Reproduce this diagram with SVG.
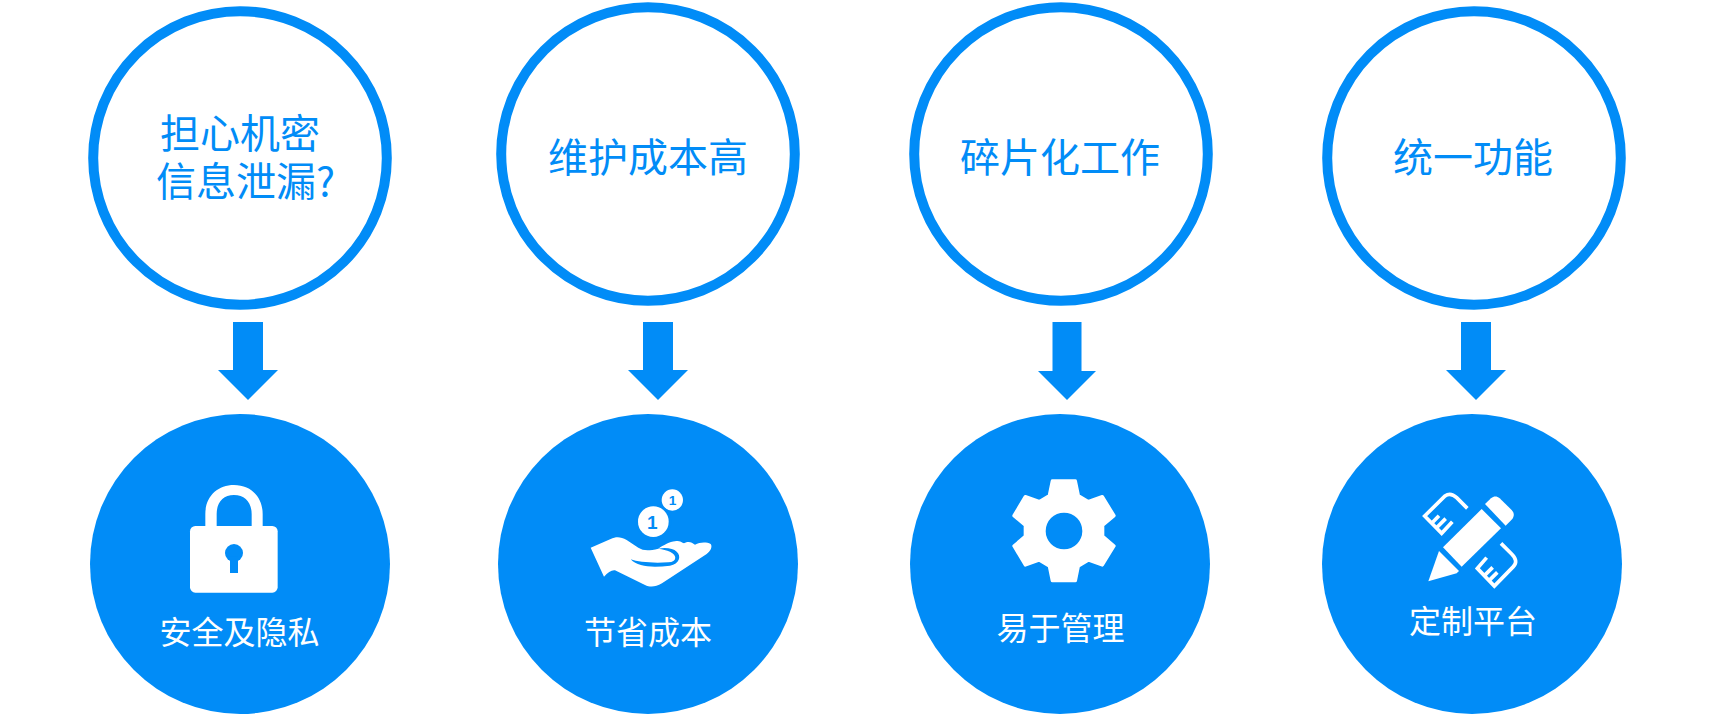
<svg xmlns="http://www.w3.org/2000/svg" width="1712" height="714" viewBox="0 0 1712 714">
<style>
.ring{fill:#fff;stroke:#018cf7;stroke-width:10}
.disc{fill:#018cf7}
.arrow{fill:#018cf7}
.t{font-family:"Noto Sans CJK SC","Liberation Sans",sans-serif;font-weight:400;text-anchor:middle}
.top{font-size:40px;fill:#018cf7}
.bot{font-size:32px;fill:#fff}
.w{fill:#fff}
.b{fill:#018cf7}
.line{fill:none;stroke:#fff;stroke-width:11;stroke-linejoin:miter}
.one{font-family:"Liberation Sans",sans-serif;font-weight:700;text-anchor:middle;fill:#018cf7}
</style>
<rect width="1712" height="714" fill="#fff"/>
<g id="connectors">
<polygon class="arrow" points="233,322 263,322 263,370 278,370 248,400 218,370 233,370"/>
<polygon class="arrow" points="643,322 673,322 673,370 688,370 658,400 628,370 643,370"/>
<polygon class="arrow" points="1052.5,322 1081.5,322 1081.5,371 1096,371 1067,400 1038,371 1052.5,371"/>
<polygon class="arrow" points="1461,322 1491,322 1491,370 1506,370 1476,400 1446,370 1461,370"/>
</g>
<g id="problem-1"><circle class="ring" cx="240" cy="158" r="146.8"/>
<text class="t top" x="240" y="148">担心机密</text><text class="t top" x="245.5" y="196">信息泄漏?</text></g>
<g id="problem-2"><circle class="ring" cx="648" cy="154" r="146.8"/>
<text class="t top" x="648" y="172">维护成本高</text></g>
<g id="problem-3"><circle class="ring" cx="1061" cy="154" r="146.8"/>
<text class="t top" x="1060" y="172">碎片化工作</text></g>
<g id="problem-4"><circle class="ring" cx="1474" cy="158" r="146.8"/>
<text class="t top" x="1473" y="172">统一功能</text></g>
<g id="benefit-1"><circle class="disc" cx="240" cy="564" r="150"/>
<g transform="translate(130,450) scale(.33333)">
<path class="w" d="M226,235V192C226,140 262,105 312,105C362,105 398,140 398,192V235H365V192C365,158 345,135 312,135C279,135 260,158 260,192V235Z"/>
<rect class="w" x="180" y="228" width="263" height="200" rx="16"/>
<circle class="b" cx="312" cy="309" r="27"/><rect class="b" x="300" y="320" width="24" height="49"/>
</g>
<text class="t bot" x="239.5" y="644">安全及隐私</text></g>
<g id="benefit-2"><circle class="disc" cx="648" cy="564" r="150"/>
<g transform="translate(580,480) scale(.33333)">
<path class="w" d="M32,203L92,177C108,170 122,170 140,180L175,203C190,212 205,213 235,206C250,196 270,185 285,184C295,180 305,186 312,190C325,182 335,186 345,194C360,186 380,186 392,192C398,200 392,213 380,222L246,310C225,322 210,322 195,315L108,272C98,268 85,275 72,290Z"/>
<path class="b" d="M152,238C175,246 215,250 265,247C292,245 292,225 270,215C260,210 248,208 235,206C258,202 280,205 290,215C305,228 298,252 270,257C220,263 175,262 152,238Z"/>
<circle class="w" cx="277" cy="60" r="32"/><circle class="b" cx="220" cy="125" r="54"/><circle class="w" cx="220" cy="125" r="46"/>
<text class="one" x="217" y="146" font-size="57">1</text><text class="one" x="278" y="75" font-size="41">1</text>
</g>
<text class="t bot" x="648" y="644">节省成本</text></g>
<g id="benefit-3"><circle class="disc" cx="1060" cy="564" r="150"/>
<g transform="translate(950,450) scale(.33333)">
<path class="w" stroke="#fff" stroke-width="10" stroke-linejoin="round" d="M307,93H376L385,137L415,155L457,140L492,197L458,226V259L492,288L457,345L415,330L385,348L376,392H307L298,348L268,330L226,345L192,288L226,259V226L192,197L226,140L268,155L298,137Z"/>
<circle class="b" cx="342" cy="243" r="55"/>
</g>
<text class="t bot" x="1060.5" y="640">易于管理</text></g>
<g id="benefit-4"><circle class="disc" cx="1472" cy="564" r="150"/>
<g transform="translate(1415,485) scale(.33333)">
<polygon class="w" points="200,72 258,130 140,245 84,187"/>
<path class="w" d="M72,198L132,258L125,265L40,289Z"/>
<path class="w" d="M210,57L228,40C238,32 246,34 254,40L290,75C298,84 298,92 292,102L272,122Z"/>
<path class="line" d="M157,70L125,38C112,26 100,26 90,33L29,93L80,145L112,110M50,115L72,92M64,129L92,101"/>
<path class="line" d="M258,175L290,207C305,222 305,235 295,245L238,303L187,250L215,218M208,272L233,247M222,287L247,262"/>
</g>
<text class="t bot" x="1473" y="633">定制平台</text></g>
</svg>
